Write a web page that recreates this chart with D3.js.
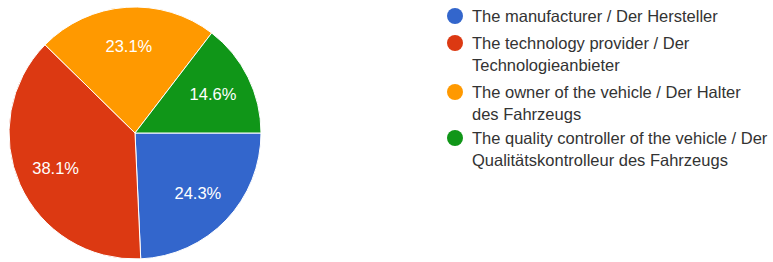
<!DOCTYPE html>
<html>
<head>
<meta charset="utf-8">
<script src="https://cdn.jsdelivr.net/npm/d3@7"></script>
<style>
  body { margin: 0; background: #fff; }
  text { font-family: "Liberation Sans", Arial, sans-serif; }
</style>
</head>
<body>
<svg id="chart" width="773" height="262"></svg>
<script>
const categories = [
  "The manufacturer / Der Hersteller",
  "The technology provider / Der Technologieanbieter",
  "The owner of the vehicle / Der Halter des Fahrzeugs",
  "The quality controller of the vehicle / Der Qualitätskontrolleur des Fahrzeugs"
];
// legend text is wrapped the same way as in the original
const legendLines = [
  ["The manufacturer / Der Hersteller"],
  ["The technology provider / Der", "Technologieanbieter"],
  ["The owner of the vehicle / Der Halter", "des Fahrzeugs"],
  ["The quality controller of the vehicle / Der", "Qualitätskontrolleur des Fahrzeugs"]
];
const values = [24.3, 38.1, 23.1, 14.6];
const colors = ["#3366cc", "#dc3912", "#ff9900", "#109618"];

const cx = 135, cy = 133, radius = 126;

const svg = d3.select("#chart");
const g = svg.append("g").attr("transform", `translate(${cx},${cy})`);

const color = d3.scaleOrdinal().domain(categories).range(colors);

const pie = d3.pie()
  .sort(null)
  .value(d => d.value)
  .startAngle(Math.PI / 2)
  .endAngle(Math.PI / 2 + 2 * Math.PI);

const data = categories.map((c, i) => ({ name: c, value: values[i] }));
const arcs = pie(data);

const arc = d3.arc().innerRadius(0).outerRadius(radius);
const labelArc = d3.arc().innerRadius(radius * 0.69).outerRadius(radius * 0.69);

g.selectAll("path")
  .data(arcs)
  .enter().append("path")
  .attr("d", arc)
  .attr("fill", d => color(d.data.name))
  .attr("stroke", "#fff")
  .attr("stroke-width", 1);

g.selectAll("text.label")
  .data(arcs)
  .enter().append("text")
  .attr("class", "label")
  .attr("transform", d => `translate(${labelArc.centroid(d)})`)
  .attr("text-anchor", "middle")
  .attr("dy", "0.35em")
  .attr("fill", "#fff")
  .attr("font-size", "16.5px")
  .text(d => d.data.value.toFixed(1) + "%");

// legend
const legendY = [16, 43, 92, 138];
const lineH = 22.5;
const legend = svg.append("g");
const item = legend.selectAll("g.item")
  .data(categories)
  .enter().append("g")
  .attr("class", "item")
  .attr("transform", (d, i) => `translate(455,${legendY[i]})`);

item.append("circle")
  .attr("r", 8)
  .attr("fill", d => color(d));

item.append("text")
  .attr("x", 17)
  .attr("font-size", "16.5px")
  .attr("fill", "#333")
  .selectAll("tspan")
  .data((d, i) => legendLines[i])
  .enter().append("tspan")
  .attr("x", 17)
  .attr("y", (d, j) => j * lineH)
  .attr("dy", "0.35em")
  .text(d => d);
</script>
</body>
</html>
